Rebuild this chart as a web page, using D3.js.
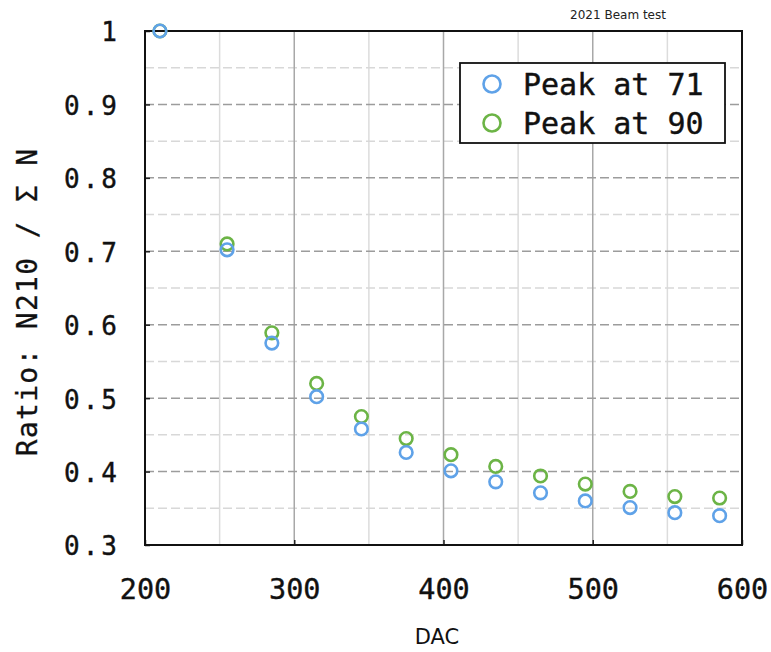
<!DOCTYPE html>
<html>
<head>
<meta charset="utf-8">
<script src="https://cdn.jsdelivr.net/npm/d3@7"></script>
<style>
  html, body { margin: 0; padding: 0; background: #fff; }
  svg { display: block; }
</style>
</head>
<body>
<svg id="chart" width="771" height="652"></svg>
<script>
// ---- data ----
const dac = [210, 255, 285, 315, 345, 375, 405, 435, 465, 495, 525, 555, 585];
const peak71 = [1.0, 0.702, 0.575, 0.502, 0.458, 0.426, 0.401, 0.386, 0.371, 0.360, 0.351, 0.344, 0.340];
const peak90 = [1.0, 0.710, 0.589, 0.520, 0.475, 0.445, 0.423, 0.407, 0.394, 0.383, 0.373, 0.366, 0.364];
const seriesNames = ["Peak at 71", "Peak at 90"];
const xTicks = [200, 300, 400, 500, 600];
const xMinorTicks = [250, 350, 450, 550];
const yTicks = [0.3, 0.4, 0.5, 0.6, 0.7, 0.8, 0.9, 1.0];
const yMinorTicks = [0.35, 0.45, 0.55, 0.65, 0.75, 0.85, 0.95];
const title = "2021 Beam test";
const xLabel = "DAC";
const yLabel = "Ratio: N210 / \u03A3 N";

const colors = ["#5fa2e8", "#6cb446"];

const svg = d3.select("#chart");
const L = 145, R = 742, T = 31, B = 545;
const x = d3.scaleLinear().domain([200, 600]).range([L, R]);
const y = d3.scaleLinear().domain([0.3, 1.0]).range([B, T]);

const mono = "'DejaVu Sans Mono', monospace";

// grid: minor
const g = svg.append("g");
g.selectAll(".vminor").data(xMinorTicks).join("line")
  .attr("x1", d => x(d)).attr("x2", d => x(d)).attr("y1", T).attr("y2", B)
  .attr("stroke", "#dcdcdc").attr("stroke-width", 1.5);
g.selectAll(".hminor").data(yMinorTicks).join("line")
  .attr("y1", d => y(d)).attr("y2", d => y(d)).attr("x1", L).attr("x2", R)
  .attr("stroke", "#d8d8d8").attr("stroke-width", 1.5).attr("stroke-dasharray", "9,4");
// grid: major
g.selectAll(".vmajor").data(xTicks.slice(1, -1)).join("line")
  .attr("x1", d => x(d)).attr("x2", d => x(d)).attr("y1", T).attr("y2", B)
  .attr("stroke", "#a8a8a8").attr("stroke-width", 1.5);
g.selectAll(".hmajor").data(yTicks.slice(1, -1)).join("line")
  .attr("y1", d => y(d)).attr("y2", d => y(d)).attr("x1", L).attr("x2", R)
  .attr("stroke", "#9c9c9c").attr("stroke-width", 1.5).attr("stroke-dasharray", "9,4");

// axes
const xAxis = d3.axisBottom(x).tickValues(xTicks).tickSize(-5).tickPadding(34).tickFormat(d3.format("d"));
const yAxis = d3.axisLeft(y).tickValues(yTicks).tickSize(-5).tickPadding(25).tickFormat(d => d === 1 ? "1" : d3.format(".1f")(d));

const gx = svg.append("g").attr("transform", `translate(0,${B})`).call(xAxis);
gx.select(".domain").remove();
gx.selectAll(".tick line").attr("stroke", "#222").attr("stroke-width", 1.5);
gx.selectAll(".tick text").attr("font-family", mono).attr("font-size", 28.5).attr("fill", "#111")
  .attr("stroke", "#111").attr("stroke-width", 0.4);

const gy = svg.append("g").attr("transform", `translate(${L},0)`).call(yAxis);
gy.select(".domain").remove();
gy.selectAll(".tick line").attr("stroke", "#222").attr("stroke-width", 1.5);
gy.selectAll(".tick text").attr("font-family", mono).attr("font-size", 26)
  .attr("letter-spacing", 3).attr("dy", "0.38em").attr("fill", "#111")
  .attr("stroke", "#111").attr("stroke-width", 0.4);

// frame
svg.append("rect").attr("x", L).attr("y", T).attr("width", R - L).attr("height", B - T)
  .attr("fill", "none").attr("stroke", "#111").attr("stroke-width", 2);

// points
const series = [peak90, peak71];
const serCols = [colors[1], colors[0]];
series.forEach((vals, si) => {
  svg.append("g").selectAll("circle").data(vals).join("circle")
    .attr("cx", (d, i) => x(dac[i])).attr("cy", d => y(d)).attr("r", 6.3)
    .attr("fill", "none").attr("stroke", serCols[si]).attr("stroke-width", 2.6);
});

// legend
const lg = svg.append("g");
lg.append("rect").attr("x", 460).attr("y", 63).attr("width", 265).attr("height", 80)
  .attr("fill", "#fff").attr("stroke", "#111").attr("stroke-width", 1.8);
seriesNames.forEach((name, i) => {
  const cy = 84 + i * 39;
  lg.append("circle").attr("cx", 492).attr("cy", cy).attr("r", 8.5)
    .attr("fill", "none").attr("stroke", colors[i]).attr("stroke-width", 2.6);
  lg.append("text").attr("x", 523).attr("y", cy + 11).text(name)
    .attr("font-family", mono).attr("font-size", 30).attr("fill", "#111")
    .attr("stroke", "#111").attr("stroke-width", 0.4);
});

// labels
svg.append("text").attr("x", 437).attr("y", 644).attr("text-anchor", "middle")
  .attr("font-family", "'DejaVu Sans', sans-serif").attr("font-size", 21).attr("fill", "#111").text(xLabel);
svg.append("text").attr("transform", "translate(37,302) rotate(-90)").attr("text-anchor", "middle")
  .attr("font-family", mono).attr("font-size", 28).attr("letter-spacing", 1.3).attr("fill", "#111")
  .attr("stroke", "#111").attr("stroke-width", 0.3).text(yLabel);
svg.append("text").attr("x", 618).attr("y", 19).attr("text-anchor", "middle")
  .attr("font-family", "'DejaVu Sans', sans-serif").attr("font-size", 12).attr("fill", "#222").text(title);
</script>
</body>
</html>
